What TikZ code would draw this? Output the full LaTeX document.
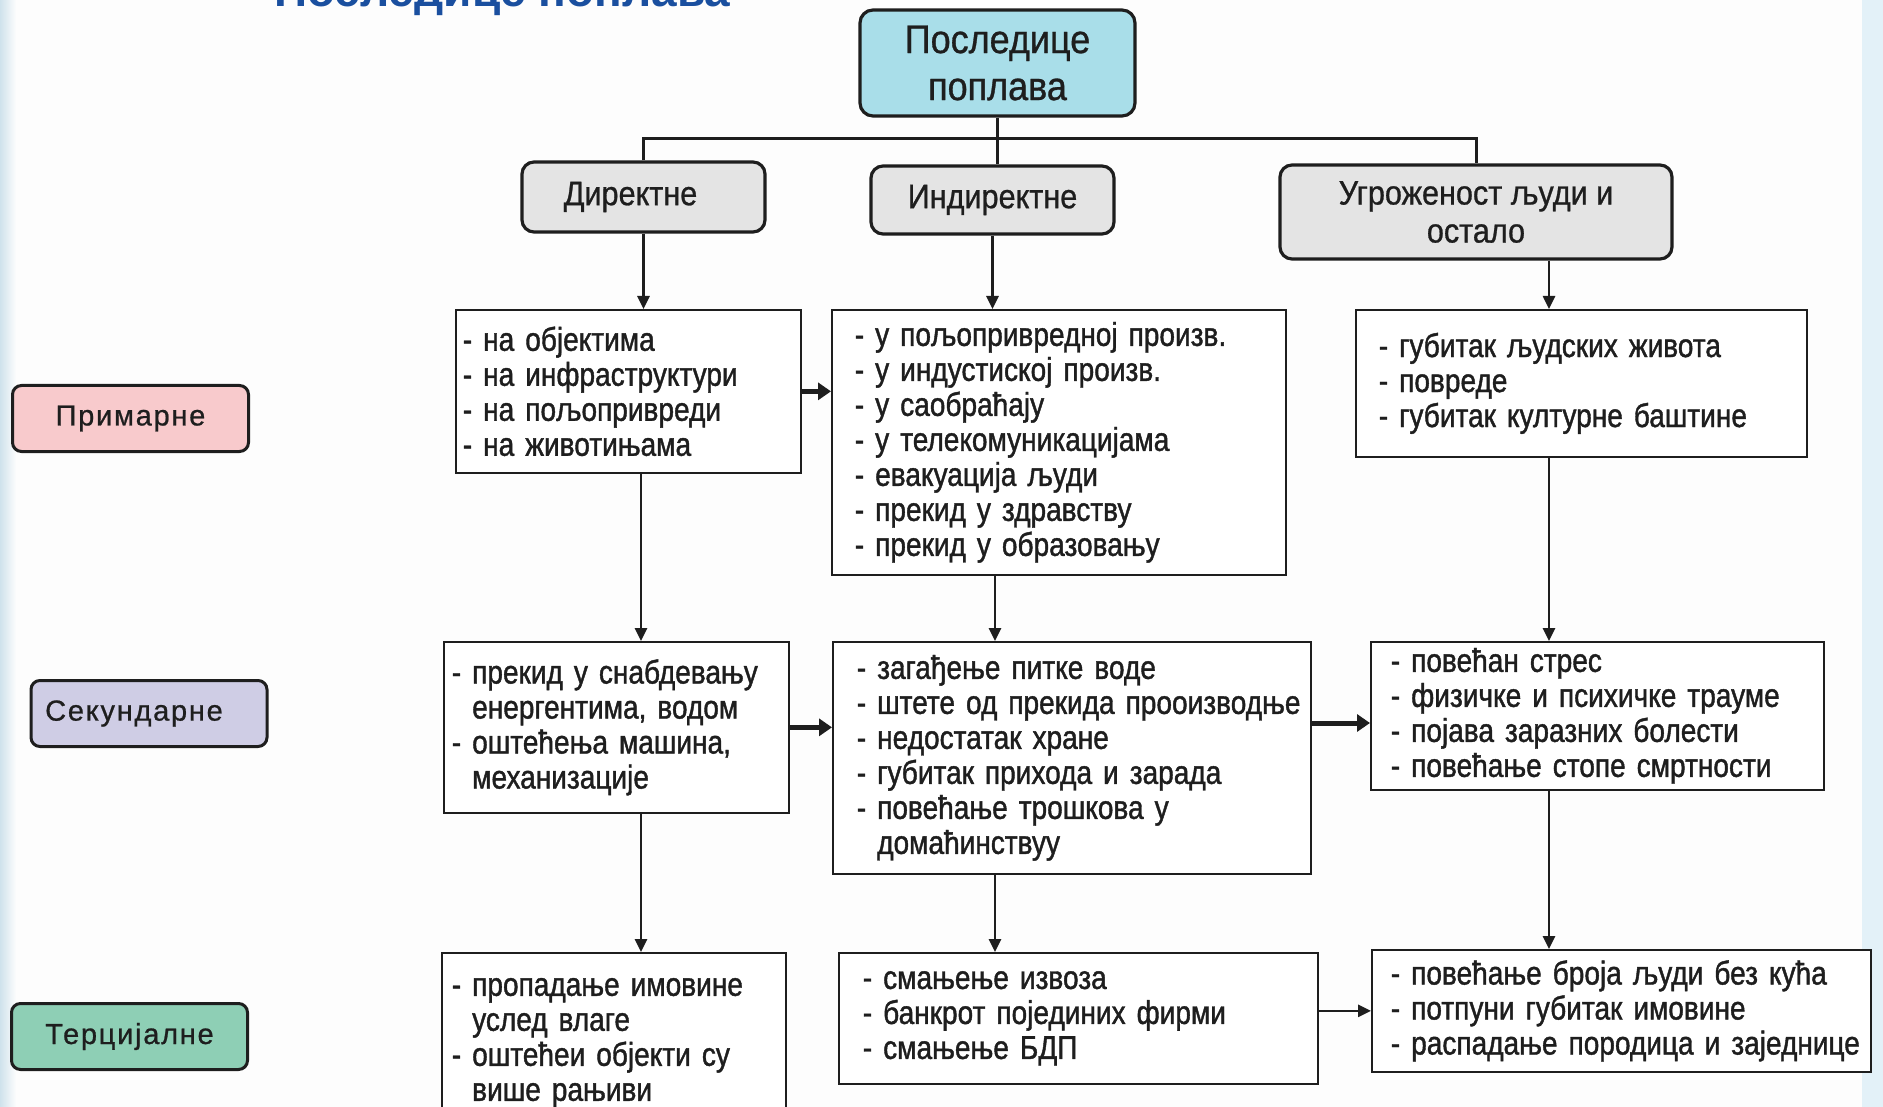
\documentclass[tikz,border=0pt]{standalone}
\usepackage{fontspec}
\setmainfont{Liberation Sans}
\newfontfamily\boxfont[FakeStretch=0.85,FakeBold=1.2]{Liberation Sans}
\newfontfamily\headfont[FakeStretch=0.9,FakeBold=0.8]{Liberation Sans}
\newfontfamily\labfont[LetterSpace=6,FakeBold=0.8]{Liberation Sans}
\usetikzlibrary{arrows.meta,calc}

\definecolor{ink}{HTML}{1E1E1E}
\definecolor{topblue}{HTML}{A9DEE9}
\definecolor{headgray}{HTML}{E4E4E4}
\definecolor{pinkc}{HTML}{F8CACC}
\definecolor{lavc}{HTML}{CFCDE5}
\definecolor{greenc}{HTML}{8ECFB5}
\definecolor{titleblue}{HTML}{1A4F9F}
\definecolor{skyL}{HTML}{CFE2EC}
\definecolor{skyR}{HTML}{E3F1F8}
\definecolor{paper}{HTML}{FDFDFD}

% one line of a list item, and its indented continuation
\newcommand\itm[1]{\mbox{#1}}
\newcommand\cont[1]{\mbox{\hphantom{- }#1}}

\tikzset{
  every node/.style={inner sep=0pt, text=ink},
  topbox/.style={draw=ink, line width=3.2pt, rounded corners=13pt, fill=topblue,
    minimum width=275pt, minimum height=106pt, align=center,
    font=\headfont\fontsize{40}{47}\selectfont},
  head/.style={draw=ink, line width=3.2pt, rounded corners=12pt, fill=headgray,
    align=center, font=\headfont\fontsize{34}{38}\selectfont},
  lab/.style={draw=ink, line width=3pt, rounded corners=9pt,
    minimum width=236pt, minimum height=66pt, font=\labfont\fontsize{29}{34}\selectfont},
  item/.style={draw=ink, line width=1.7pt, fill=white, anchor=north west, align=left,
    font=\boxfont\fontsize{33}{35}\selectfont},
  conn/.style={draw=ink, line width=3pt},
  arr/.style={draw=ink, line width=2.6pt, -{Triangle[width=12pt,length=13pt]}},
  fatarr/.style={draw=ink, line width=5pt, -{Triangle[width=17pt,length=13pt]}},
}

\begin{document}
\begin{tikzpicture}[x=1pt,y=-1pt]
\useasboundingbox (0,0) rectangle (1883,1107);
\clip (0,0) rectangle (1883,1107);

% page background with faint sky edges
\fill[paper] (0,0) rectangle (1883,1107);
\shade[left color=skyL, right color=paper] (0,0) rectangle (16,1107);
\fill[skyR] (1862,0) rectangle (1883,1107);

% slide title
\node[anchor=base west, text=titleblue, font=\bfseries\fontsize{46}{50}\selectfont] (ttl) at (274,7) {Последице поплава};

% root and the three branches
\node[topbox] (top) at (997.5,63) {Последице\\поплава};
\node[head, minimum width=243pt, minimum height=70pt] (dir) at (643.5,197) {Директне\hspace*{26pt}};
\node[head, minimum width=243pt, minimum height=68pt] (ind) at (992.5,200) {Индиректне};
\node[head, minimum width=392pt, minimum height=94pt] (ugr) at (1476,212) {Угроженост људи и\\остало};

% row labels
\node[lab, fill=pinkc] (prim) at (130.5,418.5) {Примарне};
\node[lab, fill=lavc] (sek) at (149,713.5) {Секундарне\hspace*{30pt}};
\node[lab, fill=greenc] (ter) at (129.5,1036.5) {Терцијалне};

% primary consequences
\node[item, text width=331pt, inner xsep=7pt, minimum height=163pt] (p1) at (455,309)
  {\itm{- на објектима}\\\itm{- на инфраструктури}\\\itm{- на пољопривреди}\\\itm{- на животињама}\\[4pt]};
\node[item, text width=408pt, inner xsep=23pt, minimum height=265pt] (p2) at (831,309)
  {\itm{- у пољопривредној произв.}\\\itm{- у индустиској произв.}\\\itm{- у саобраћају}\\
   \itm{- у телекомуникацијама}\\\itm{- евакуација људи}\\\itm{- прекид у здравству}\\
   \itm{- прекид у образовању}};
\node[item, text width=405pt, inner xsep=23pt, minimum height=147pt] (p3) at (1355,309)
  {\itm{- губитак људских живота}\\\itm{- повреде}\\\itm{- губитак културне баштине}};

% secondary consequences
\node[item, text width=329pt, inner xsep=8pt, minimum height=171pt] (s1) at (443,641)
  {\itm{- прекид у снабдевању}\\\cont{енергентима, водом}\\\itm{- оштећења машина,}\\\cont{механизације}\\[8pt]};
\node[item, text width=430pt, inner xsep=24pt, minimum height=232pt] (s2) at (832,641)
  {\itm{- загађење питке воде}\\\itm{- штете од прекида проoизводње}\\\itm{- недостатак хране}\\
   \itm{- губитак прихода и зарада}\\\itm{- повећање трошкова у}\\\cont{домаћинствуу}\\[4pt]};
\node[item, text width=413pt, inner xsep=20pt, minimum height=148pt] (s3) at (1370,641)
  {\itm{- повећан стрес}\\\itm{- физичке и психичке трауме}\\\itm{- појава заразних болести}\\
   \itm{- повећање стопе смртности}\\[4pt]};

% tertiary consequences
\node[item, text width=324pt, inner xsep=10pt, minimum height=180pt] (t1) at (441,952)
  {\itm{- пропадање имовине}\\\cont{услед влаге}\\\itm{- оштећеи објекти су}\\\cont{више рањиви}\\[14pt]};
\node[item, text width=431pt, inner xsep=24pt, minimum height=131pt] (t2) at (838,952)
  {\itm{- смањење извоза}\\\itm{- банкрот појединих фирми}\\\itm{- смањење БДП}\\[12pt]};
\node[item, text width=461pt, inner xsep=19pt, minimum height=122pt] (t3) at (1371,949)
  {\itm{- повећање броја људи без кућа}\\\itm{- потпуни губитак имовине}\\\itm{- распадање породица и заједнице}};

% column guides and the branch bar
\coordinate (bar) at (0,139);
\coordinate (cA) at (641,0);
\coordinate (cB) at (995,0);
\coordinate (cC) at (1549,0);
\coordinate (r2) at (0,723);

\draw[conn] (top.south) -- (top.south |- ind.north);
\draw[conn] (dir.north) -- (dir.north |- bar) -- (ugr.north |- bar) -- (ugr.north);

% downward flow
\draw[arr] (dir.south) -- (dir.south |- p1.north);
\draw[arr] (ind.south) -- (ind.south |- p2.north);
\draw[arr] (ugr.south -| cC) -- (p3.north -| cC);
\draw[arr] (p1.south -| cA) -- (s1.north -| cA);
\draw[arr] (p2.south -| cB) -- (s2.north -| cB);
\draw[arr] (p3.south -| cC) -- (s3.north -| cC);
\draw[arr] (s1.south -| cA) -- (t1.north -| cA);
\draw[arr] (s2.south -| cB) -- (t2.north -| cB);
\draw[arr] (s3.south -| cC) -- (t3.north -| cC);

% sideways flow
\draw[fatarr] (p1.east) -- (p1.east -| p2.west);
\draw[fatarr] (s1.east) -- (s1.east -| s2.west);
\draw[fatarr] (s2.east |- r2) -- (s3.west |- r2);
\draw[arr] (t3.west -| t2.east) -- (t3.west);
\end{tikzpicture}
\end{document}
